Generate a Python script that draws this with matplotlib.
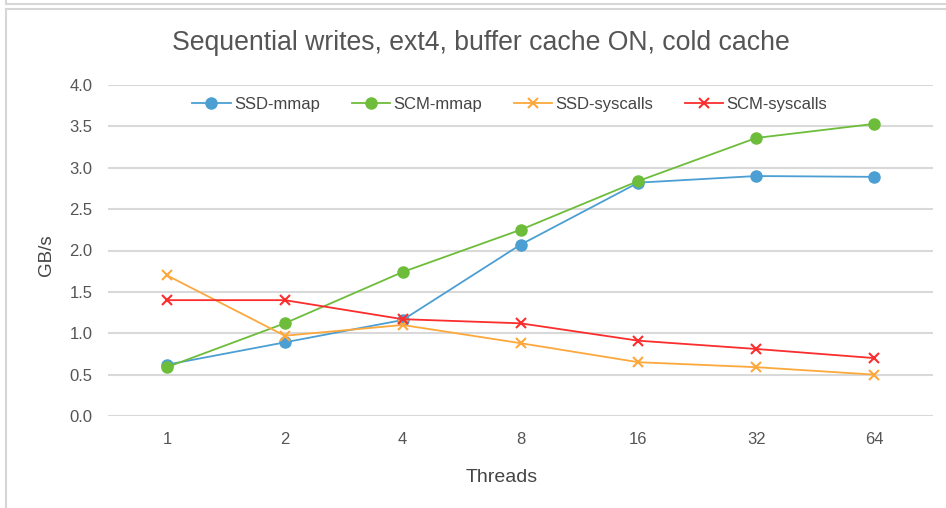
import matplotlib.pyplot as plt
from matplotlib.lines import Line2D

# data
threads = ['1', '2', '4', '8', '16', '32', '64']
ssd_mmap = [0.62, 0.89, 1.16, 2.07, 2.82, 2.90, 2.89]
scm_mmap = [0.59, 1.12, 1.74, 2.25, 2.84, 3.36, 3.53]
ssd_syscalls = [1.70, 0.97, 1.10, 0.88, 0.65, 0.59, 0.50]
scm_syscalls = [1.40, 1.40, 1.17, 1.12, 0.91, 0.81, 0.70]

plt.rcParams['font.family'] = ['Liberation Sans', 'DejaVu Sans']

fig = plt.figure(figsize=(9.46, 5.08), dpi=100)

# screenshot frame around the chart
W, H = 946, 508
frame = '#d6d6d6'
fig.add_artist(Line2D([6 / W, 1], [1 - 4 / H, 1 - 4 / H], color=frame, lw=1.5))
fig.add_artist(Line2D([6 / W, 6 / W], [1 - 4 / H, 1], color=frame, lw=1.5))
fig.add_artist(Line2D([6 / W, 1], [1 - 9 / H, 1 - 9 / H], color=frame, lw=1.5))
fig.add_artist(Line2D([6 / W, 6 / W], [0, 1 - 9 / H], color=frame, lw=1.5))

ax = fig.add_axes([108 / W, 1 - 416 / H, 825 / W, 331 / H])
x = list(range(len(threads)))

ax.plot(x, ssd_mmap, color='#4b9fd3', lw=1.3, marker='o', ms=8, label='SSD-mmap')
ax.plot(x, scm_mmap, color='#6dbd3b', lw=1.3, marker='o', ms=8, label='SCM-mmap')
ax.plot(x, ssd_syscalls, color='#fda83c', lw=1.3, marker='x', ms=7.5, mew=1.5, label='SSD-syscalls')
ax.plot(x, scm_syscalls, color='#fb2d2d', lw=1.3, marker='x', ms=7.5, mew=1.5, label='SCM-syscalls')

ax.set_xlim(-0.5, 6.5)
ax.set_ylim(0, 4.0)
ax.set_yticks([0, 0.5, 1.0, 1.5, 2.0, 2.5, 3.0, 3.5, 4.0])
ax.set_yticklabels(['%.1f' % v for v in ax.get_yticks()])
ax.set_xticks(x)
ax.set_xticklabels(threads)
ax.yaxis.grid(True, color='#d9d9d9', lw=1.5)
ax.set_axisbelow(True)
for s in ax.spines.values():
    s.set_visible(False)
ax.tick_params(length=0, labelsize=12, colors='#555555', pad=11)
ax.tick_params(axis='x', pad=11.5)

# axis titles placed where the reference has them
fig.text(501.5 / W, 1 - 477 / H, 'Threads', ha='center', va='center',
         fontsize=14, color='#444444')
fig.text(46 / W, 1 - 255 / H, 'GB/s', ha='center', va='center', rotation=90,
         fontsize=13.5, color='#444444')

ax.legend(loc='upper center', bbox_to_anchor=(0.487, 1.01), ncol=4, frameon=False,
          fontsize=12, handlelength=2.3, columnspacing=1.9, handletextpad=0.2,
          labelcolor='#444444')

fig.text(0.508, 1 - 43 / H, 'Sequential writes, ext4, buffer cache ON, cold cache',
         ha='center', va='center', fontsize=19.2, color='#555555')

fig.savefig('out.png', dpi=100)
